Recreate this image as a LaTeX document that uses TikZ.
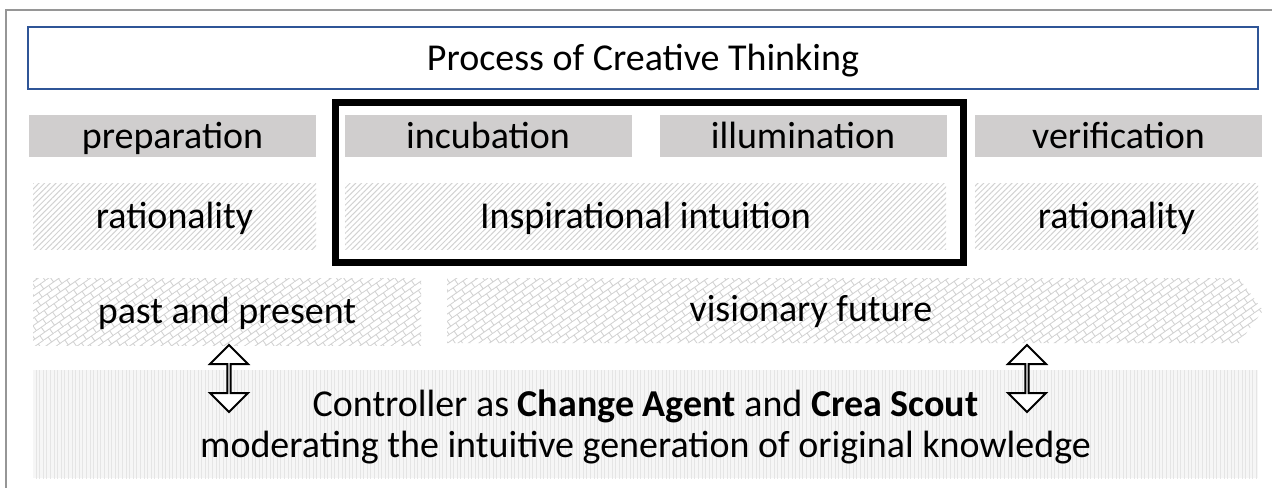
\documentclass[tikz,border=0pt]{standalone}
\usepackage{fontspec}
\setmainfont{Carlito}
\usetikzlibrary{
  shapes.arrows,
  patterns.meta,
  positioning
}
\definecolor{stagegray}{RGB}{208,206,206}
\definecolor{titleblue}{RGB}{47,85,151}
\definecolor{framegray}{RGB}{150,150,150}

% diagonal brick pattern for the time boxes
\tikzdeclarepattern{
  name=bricks,
  type=uncolored,
  bounding box={(-.2pt,-.2pt) and (6.2pt,6.2pt)},
  tile size={(6pt,6pt)},
  tile transformation={rotate=35},
  code={
    \draw[line width=.45pt] (0pt,0pt) -- (6pt,0pt) (0pt,3pt) -- (6pt,3pt)
      (0pt,0pt) -- (0pt,3pt) (3pt,3pt) -- (3pt,6pt);
  }
}

\begin{document}
\begin{tikzpicture}[
      x=0.5pt, y=-0.5pt,
      every node/.style={
         font=\fontsize{19}{20.5}\selectfont,
         inner sep=0pt,
         text height=14pt,
         text depth=2pt
      },
      heading/.style={
         rectangle,
         draw=titleblue,
         line width=1pt,
         minimum width=615pt,
         minimum height=31pt
      },
      stage/.style={
         rectangle,
         fill=stagegray,
         minimum width=143.5pt,
         minimum height=21pt
      },
      mode/.style={
         rectangle,
         pattern={Lines[angle=45,distance=2pt,line width=.5pt]},
         pattern color=gray!35,
         minimum width=#1,
         minimum height=33pt
      },
      timebox/.style={
         rectangle,
         pattern=bricks,
         pattern color=gray!35,
         minimum width=194pt,
         minimum height=33.5pt
      },
      futurearrow/.style={
         single arrow,
         pattern=bricks,
         pattern color=gray!35,
         single arrow head extend=0pt,
         single arrow head indent=0pt,
         single arrow tip angle=107,
         minimum height=408pt,
         minimum width=32.5pt
      },
      agent/.style={
         rectangle,
         preaction={fill=gray!7},
         pattern={Lines[angle=90,distance=1.8pt,line width=.5pt]},
         pattern color=gray!20,
         minimum width=612.5pt,
         minimum height=54pt
      },
      link/.style={
         double arrow,
         rotate=90,
         draw=black,
         line width=1pt,
         fill=white,
         text height=0pt,
         text depth=0pt,
         minimum height=33.5pt,
         minimum width=19pt,
         double arrow head extend=5.25pt,
         double arrow tip angle=90
      },
      focus/.style={draw=black, line width=3.5pt}
    ]
    \useasboundingbox (0,0) rectangle (1272,488);
    \draw[framegray, line width=1pt] (1272,10) -| (6,488);

    \node[heading] (n11) at (643,58) {Process of Creative Thinking};

    % phases
    \node[stage] (n21) at (172.5,136) {preparation};
    \node[stage] (n22) at (488,136) {incubation};
    \node[stage] (n23) at (803,136) {illumination};
    \node[stage] (n24) at (1118.5,136) {verification};

    \node[mode=141.5pt] (n31) at (174.5,216) {rationality};
    \node[mode=300.5pt] (n32) at (645.5,216) {Inspirational intuition};
    \node[mode=141.5pt] (n33) at (1116.5,216) {rationality};

    \draw[focus] (335,102) rectangle (963,262);

    % time horizon
    \node[timebox] (n41) at (227,311.5) {past and present};
    \node[futurearrow] (n42) at (843,310.5) {};
    \node (n43) at (811,309) {visionary future};

    \node[agent] (n51) at (645.5,424) {};
    \node[align=center, text height=, text depth=] (n54) at (645.5,427)
      {Controller as \textbf{Change Agent} and \textbf{Crea Scout}\\
       moderating the intuitive generation of original knowledge};

    \node[link] (n52) at (229,378.5) {};
    \node[link] (n53) at (1027,378.5) {};
\end{tikzpicture}
\end{document}
